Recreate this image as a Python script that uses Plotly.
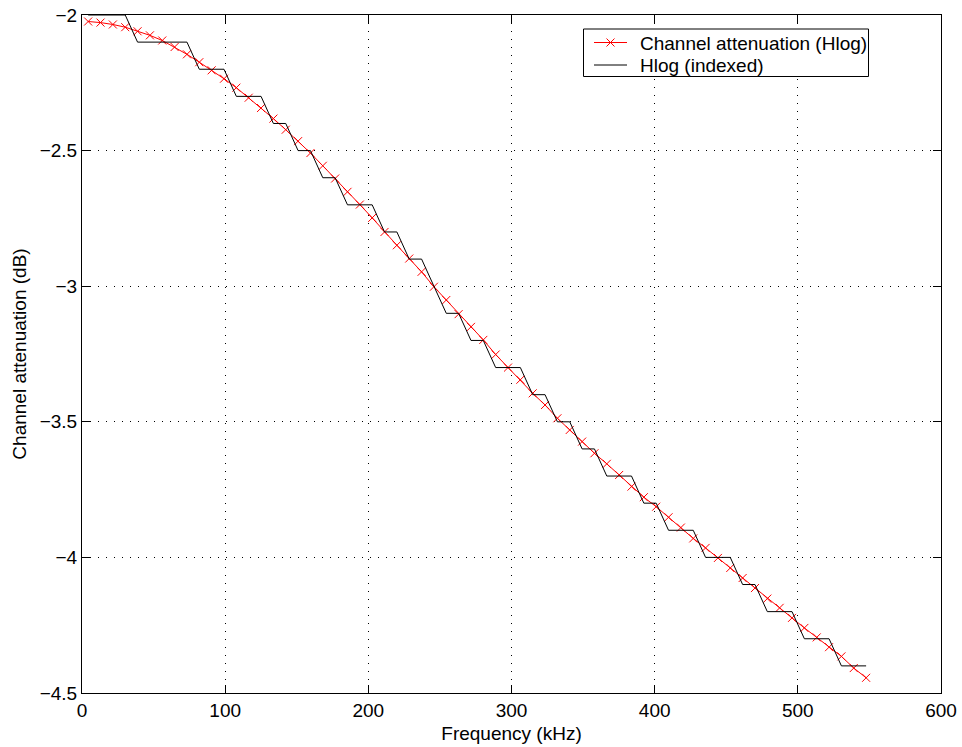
import plotly.graph_objects as go

freq_khz = [4.31, 12.94, 21.56, 30.19, 38.81, 47.44, 56.06, 64.69, 73.31, 81.94,
            90.56, 99.19, 107.81, 116.44, 125.06, 133.69, 142.31, 150.94, 159.56, 168.19,
            176.81, 185.44, 194.06, 202.69, 211.31, 219.94, 228.56, 237.19, 245.81, 254.44,
            263.06, 271.69, 280.31, 288.94, 297.56, 306.19, 314.81, 323.44, 332.06, 340.69,
            349.31, 357.94, 366.56, 375.19, 383.81, 392.44, 401.06, 409.69, 418.31, 426.94,
            435.56, 444.19, 452.81, 461.44, 470.06, 478.69, 487.31, 495.94, 504.56, 513.19,
            521.81, 530.44, 539.06, 547.69]

hlog = [-2.024, -2.028, -2.035, -2.045, -2.060, -2.075, -2.094, -2.118, -2.145, -2.174,
        -2.204, -2.235, -2.268, -2.305, -2.343, -2.382, -2.423, -2.465, -2.509, -2.556,
        -2.603, -2.652, -2.699, -2.748, -2.800, -2.849, -2.898, -2.947, -3.002, -3.051,
        -3.103, -3.150, -3.198, -3.252, -3.300, -3.345, -3.395, -3.438, -3.487, -3.530,
        -3.573, -3.616, -3.655, -3.696, -3.739, -3.778, -3.813, -3.852, -3.890, -3.930,
        -3.965, -4.002, -4.039, -4.076, -4.113, -4.152, -4.186, -4.223, -4.260, -4.295,
        -4.331, -4.365, -4.408, -4.444]

hlog_indexed = [-2.0, -2.0, -2.0, -2.0, -2.1, -2.1, -2.1, -2.1, -2.1, -2.2,
                -2.2, -2.2, -2.3, -2.3, -2.3, -2.4, -2.4, -2.5, -2.5, -2.6,
                -2.6, -2.7, -2.7, -2.7, -2.8, -2.8, -2.9, -2.9, -3.0, -3.1,
                -3.1, -3.2, -3.2, -3.3, -3.3, -3.3, -3.4, -3.4, -3.5, -3.5,
                -3.6, -3.6, -3.7, -3.7, -3.7, -3.8, -3.8, -3.9, -3.9, -3.9,
                -4.0, -4.0, -4.0, -4.1, -4.1, -4.2, -4.2, -4.2, -4.3, -4.3,
                -4.3, -4.4, -4.4, -4.4]

x_ticks = [0, 100, 200, 300, 400, 500, 600]
y_ticks = [-4.5, -4, -3.5, -3, -2.5, -2]
series_names = ["Channel attenuation (Hlog)", "Hlog (indexed)"]
series_colors = ["#ff0000", "#000000"]

FONT = "Liberation Sans, Arial, Helvetica, sans-serif"
FS = 19
W, H = 962, 747
ML, MR, MT, MB = 82, 21, 15, 54
PW, PH = W - ML - MR, H - MT - MB


def px(xp):
    return (xp - ML) / PW


def py(yp):
    return (H - MB - yp) / PH


fig = go.Figure()
fig.add_trace(go.Scatter(
    x=freq_khz, y=hlog, mode="lines+markers",
    name=series_names[0],
    line=dict(color=series_colors[0], width=1),
    marker=dict(symbol="x-thin", size=8, line=dict(color=series_colors[0], width=1), color=series_colors[0]),
))
fig.add_trace(go.Scatter(
    x=freq_khz, y=hlog_indexed, mode="lines",
    name=series_names[1],
    line=dict(color=series_colors[1], width=1),
))

axis_common = dict(
    showline=True, linecolor="black", linewidth=1, mirror="ticks",
    ticks="inside", ticklen=8, tickcolor="black", tickwidth=1,
    showgrid=True, gridcolor="black", gridwidth=1, griddash="1px,7px",
    zeroline=False, tickfont=dict(family=FONT, size=FS, color="black"),
)

fig.update_xaxes(range=[0, 600], tickvals=x_ticks, ticktext=[f"{v:g}" for v in x_ticks],
                 title=dict(text="Frequency (kHz)", font=dict(family=FONT, size=FS, color="black"), standoff=6),
                 **axis_common)
fig.update_yaxes(range=[-4.5, -2], tickvals=y_ticks,
                 ticktext=[f"{v:g}".replace("-", "\u2212") for v in y_ticks],
                 title=dict(text="Channel attenuation (dB)", font=dict(family=FONT, size=FS, color="black"), standoff=8),
                 **axis_common)

# Legend box (drawn manually to match the compact MATLAB legend)
shapes = [dict(type="rect", xref="paper", yref="paper",
               x0=px(583.5), x1=px(868.5), y0=py(76.5), y1=py(29),
               line=dict(color="black", width=1), fillcolor="white", layer="above")]
annotations = []
row_y = [42.5, 65]
for name, color, ry in zip(series_names, series_colors, row_y):
    shapes.append(dict(type="line", xref="paper", yref="paper",
                       x0=px(594), x1=px(627), y0=py(ry), y1=py(ry),
                       line=dict(color=color, width=1), layer="above"))
    annotations.append(dict(text=name, xref="paper", yref="paper",
                            x=px(638), y=py(ry + 0.5), xanchor="left", yanchor="middle",
                            showarrow=False, font=dict(family=FONT, size=FS, color="black")))
# red "x" marker in legend sample
cx, cy, hs = 610.5, row_y[0], 4
shapes.append(dict(type="line", xref="paper", yref="paper",
                   x0=px(cx - hs), x1=px(cx + hs), y0=py(cy - hs), y1=py(cy + hs),
                   line=dict(color=series_colors[0], width=1), layer="above"))
shapes.append(dict(type="line", xref="paper", yref="paper",
                   x0=px(cx - hs), x1=px(cx + hs), y0=py(cy + hs), y1=py(cy - hs),
                   line=dict(color=series_colors[0], width=1), layer="above"))

fig.update_layout(
    width=W, height=H,
    margin=dict(l=ML, r=MR, t=MT, b=MB, autoexpand=False),
    paper_bgcolor="white", plot_bgcolor="white",
    font=dict(family=FONT, size=FS, color="black"),
    showlegend=False,
    shapes=shapes, annotations=annotations,
)

fig.write_html("out.html")
